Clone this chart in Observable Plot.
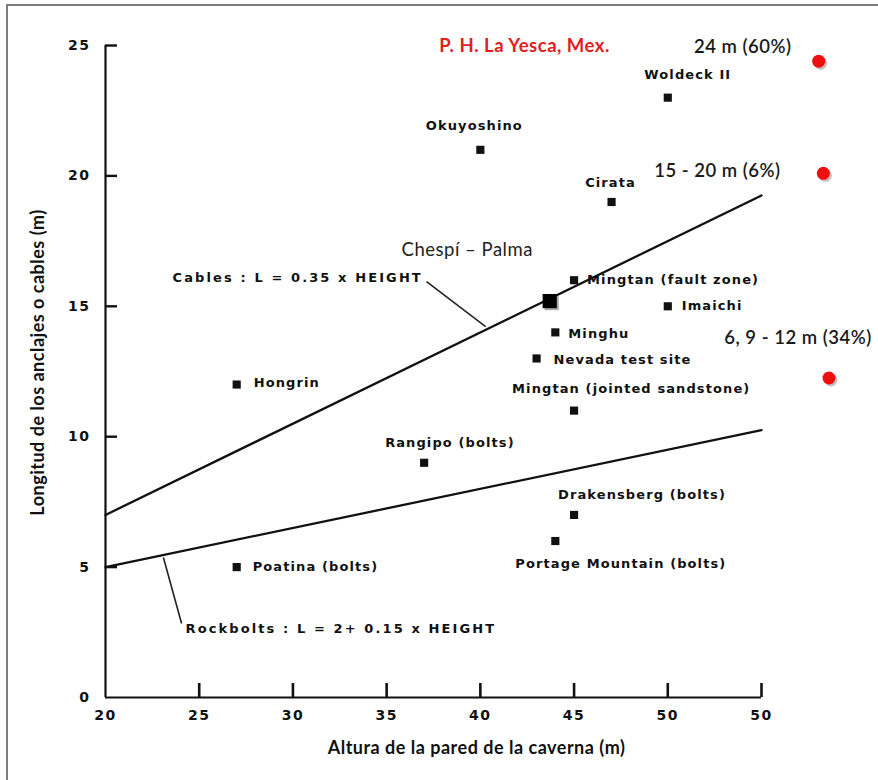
<!DOCTYPE html>
<html><head><meta charset="utf-8">
<script src="https://cdn.jsdelivr.net/npm/d3@7"></script>
<script src="https://cdn.jsdelivr.net/npm/@observablehq/plot@0.6"></script>
<style>
body{margin:0;background:#fff;}
#wrap{position:relative;width:878px;height:780px;overflow:hidden;background:#fff;}
#border{position:absolute;left:6px;top:4px;width:900px;height:800px;border-left:2px solid #7d7d7d;border-top:2px solid #7d7d7d;pointer-events:none;}
</style></head><body><div id="wrap"><div id="border"></div></div>
<script>
// ---- data ----
const sites = ["Okuyoshino","Woldeck II","Cirata","Mingtan (fault zone)","Imaichi","Minghu","Nevada test site","Mingtan (jointed sandstone)","Hongrin","Rangipo (bolts)","Poatina (bolts)","Drakensberg (bolts)","Portage Mountain (bolts)"];
const heights = [40, 50, 47, 45, 50, 44, 43, 45, 27, 37, 27, 45, 44];
const lengths = [21, 23, 19, 16, 15, 14, 13, 11, 12, 9, 5, 7, 6];

const chespiName = "Chespí – Palma";
const chespiHeight = [43.7];
const chespiLength = [15.2];

const cableH = [20, 55];
const cableL = [7, 19.25];
const boltH = [20, 55];
const boltL = [5, 10.25];

const yescaLabels = ["24 m (60%)", "15 - 20 m (6%)", "6, 9 - 12 m (34%)"];
const yescaX = [58.05, 58.3, 58.6];
const yescaY = [24.4, 20.1, 12.25];

const xTicks = [20, 25, 30, 35, 40, 45, 50, 55];
const xTickLabels = ["20", "25", "30", "35", "40", "45", "50", "50"];
const yTicks = [0, 5, 10, 15, 20, 25];

const xTitle = "Altura de la pared de la caverna (m)";
const yTitle = "Longitud de los anclajes o cables (m)";
const cableText = "Cables : L = 0.35 x HEIGHT";
const boltText = "Rockbolts : L = 2+ 0.15 x HEIGHT";
const yescaTitle = "P. H. La Yesca, Mex.";

// ---- layout (pixel offsets of labels relative to their points) ----
const labelLayout = {
  "Okuyoshino": ["middle", -6, -24],
  "Woldeck II": ["middle", 20, -23],
  "Cirata": ["middle", -1, -19],
  "Mingtan (fault zone)": ["start", 13, 0],
  "Imaichi": ["start", 14, 0],
  "Minghu": ["start", 13, 1],
  "Nevada test site": ["start", 17, 1],
  "Mingtan (jointed sandstone)": ["start", -62, -22],
  "Hongrin": ["start", 17, -2],
  "Rangipo (bolts)": ["start", -39, -20],
  "Poatina (bolts)": ["start", 16, 0],
  "Drakensberg (bolts)": ["start", -16, -20],
  "Portage Mountain (bolts)": ["start", -40, 23]
};
const yescaLayout = [[-76, -14], [-106, -2], [-31, -40]];

const W = 878, H = 780, mL = 105, mR = 117, mT = 45, mB = 83;
const frameW = W - mL - mR, frameH = H - mT - mB;
const yDomain = [0, 25], xDomain = [20, 55];

const points = sites.map((s, i) => ({site: s, h: heights[i], l: lengths[i]}));
const chespi = chespiHeight.map((h, i) => ({h, l: chespiLength[i]}));
const cable = cableH.map((h, i) => ({h, l: cableL[i]}));
const bolt = boltH.map((h, i) => ({h, l: boltL[i]}));
const yesca = yescaLabels.map((t, i) => ({t, h: yescaX[i], l: yescaY[i]}));

const letter = {fontFamily: "DejaVu Sans", fontWeight: "bold", fontSize: 13, fill: "#111"};
const calibri = {fontFamily: "Lato"};

const marks = [
  // axes lines
  Plot.ruleY([0], {stroke: "#111", strokeWidth: 2.2}),
  Plot.ruleX([xTicks[0]], {stroke: "#111", strokeWidth: 2.2}),
  Plot.axisY({ticks: yTicks, tickSize: 0, tickPadding: 15, label: null, fontSize: 14, fontWeight: "bold", fontFamily: "DejaVu Sans"}),
  Plot.axisX({ticks: xTicks, tickSize: 0, tickPadding: 13, label: null, tickFormat: d => xTickLabels[xTicks.indexOf(d)], fontSize: 14, fontWeight: "bold", fontFamily: "DejaVu Sans"}),
  // design lines
  Plot.line(cable, {x: "h", y: "l", stroke: "#111", strokeWidth: 2.3}),
  Plot.line(bolt, {x: "h", y: "l", stroke: "#111", strokeWidth: 2.3}),
  // leaders
  Plot.link([{x1: 37.13, y1: 15.95, x2: 40.28, y2: 14.22}], {x1: "x1", y1: "y1", x2: "x2", y2: "y2", stroke: "#222", strokeWidth: 1.6}),
  Plot.link([{x1: 23.09, y1: 5.37, x2: 24.06, y2: 2.84}], {x1: "x1", y1: "y1", x2: "x2", y2: "y2", stroke: "#222", strokeWidth: 1.6}),
  Plot.text([cableText], {x: 23.58, y: 16.1, textAnchor: "start", ...letter}),
  Plot.text([boltText], {x: 24.27, y: 2.65, textAnchor: "start", ...letter}),
  // site points
  Plot.dot(points, {x: "h", y: "l", symbol: "square", r: 4.6, fill: "#111", stroke: null}),
  ...points.map(p => {
    const [a, dx, dy] = labelLayout[p.site];
    return Plot.text([p], {x: "h", y: "l", text: "site", textAnchor: a, dx, dy, ...letter});
  }),
  // Chespí – Palma
  Plot.dot(chespi, {x: "h", y: "l", symbol: "square", r: 8, fill: "#aaa", dx: 2, dy: 2}),
  Plot.dot(chespi, {x: "h", y: "l", symbol: "square", r: 8, fill: "#000"}),
  Plot.text([chespiName], {x: 39.3, y: 17.14, fontSize: 18.5, fill: "#222", ...calibri}),
  // La Yesca
  Plot.text([yescaTitle], {x: 42.36, y: 24.96, fontSize: 18.5, fontWeight: "bold", fill: "#e0201e", ...calibri}),
  Plot.dot(yesca, {x: "h", y: "l", r: 6.5, fill: "#c8bfbf", dx: 2, dy: 2}),
  Plot.dot(yesca, {x: "h", y: "l", r: 6.5, fill: "#ee0f0f"}),
  ...yesca.map((d, i) => Plot.text([d], {x: "h", y: "l", text: "t", dx: yescaLayout[i][0], dy: yescaLayout[i][1], fontSize: 18.5, fontWeight: 600, fill: "#1a1a1a", ...calibri})),
  // axis titles
  Plot.text([xTitle], {frameAnchor: "bottom", textAnchor: "middle", lineAnchor: "middle", dx: 43, dy: 51, fontSize: 18, fontWeight: "bold", fill: "#111", ...calibri}),
  Plot.text([yTitle], {frameAnchor: "left", textAnchor: "middle", lineAnchor: "middle", rotate: -90, dx: -67, dy: -9, fontSize: 18, fontWeight: "bold", fill: "#111", ...calibri}),
  // inward ticks
  Plot.tickY(yTicks.slice(1), {y: d => d, insetRight: frameW - 12, stroke: "#111", strokeWidth: 2.4}),
  Plot.tickX(xTicks.slice(1), {x: d => d, insetTop: frameH - 14, stroke: "#111", strokeWidth: 2.6})
];

const chart = Plot.plot({
  width: W, height: H,
  marginLeft: mL, marginRight: mR, marginTop: mT, marginBottom: mB,
  x: {domain: xDomain},
  y: {domain: yDomain},
  style: {background: "transparent", color: "#111", overflow: "visible"},
  marks
});

// letter spacing per text kind
const siteSet = new Set(sites);
const tickSet = new Set([...xTickLabels, ...yTicks.map(String)]);
d3.select(chart).selectAll("text").each(function() {
  const t = this.textContent;
  let ls = "0.5px";
  if (siteSet.has(t)) ls = "1.1px";
  else if (t === cableText || t === boltText) ls = "2.1px";
  else if (tickSet.has(t)) ls = "1.5px";
  this.style.letterSpacing = ls;
});
document.getElementById("wrap").appendChild(chart);
</script>
</body></html>
